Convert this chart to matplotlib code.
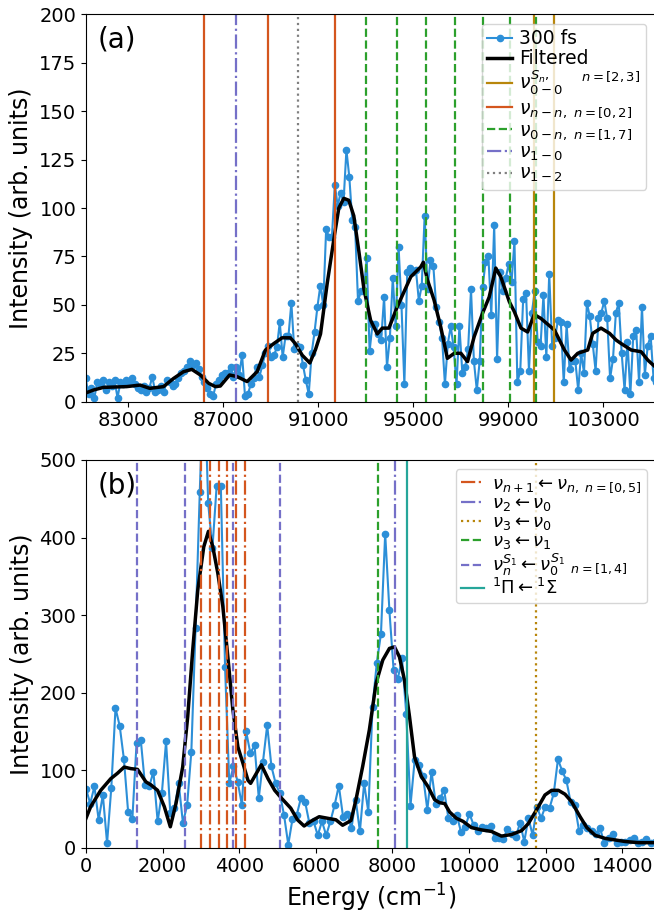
import numpy as np
import matplotlib
matplotlib.use("Agg")
import matplotlib.pyplot as plt

# panel (a): 300 fs spectrum, uniform energy grid
a_start = 81200
a_step = 122
counts_a = [
    12, 4, 7, 2, 10, 9, 11, 6, 10, 8, 11, 2, 10, 9, 11, 10, 12, 9, 7, 6, 8, 5, 7, 13, 5, 6, 8, 5, 11, 10, 8,
    9, 12, 15, 16, 18, 21, 19, 20, 17, 13, 10,
    7, 4, 3, 9, 11, 14, 15,
    15, 18, 13, 18, 14, 24, 3,
    4, 9, 12, 18, 13, 19, 25, 29, 23, 24, 28,
    41,
    23, 34, 34, 51, 27, 29, 28, 19, 11, 4,
    25, 36, 49, 60, 50, 89, 85, 85, 112, 101,
    108, 103, 130, 116, 94, 90, 52, 57, 57, 74,
    26, 40, 40, 35, 32, 54, 18, 33, 64, 39,
    80, 50, 9, 67, 69, 67, 68, 52, 60, 96,
    58, 73, 70, 49, 41, 33, 9, 30, 39, 28,
    9, 39, 15, 18, 27, 58,
    21, 6, 21, 59, 72, 75, 45, 91, 22, 67,
    57, 64, 71, 62, 83, 10, 16, 53, 56, 16,
    46, 57, 31, 29, 55, 23, 66, 29, 33, 42,
    41, 10, 40, 17, 21, 21, 6, 25, 15, 51,
    44, 30, 16, 43, 46, 52, 43, 12, 22, 46,
    51, 25, 6, 31, 4, 34, 37, 10, 49, 14,
    29, 34, 12, 10,
]

filt_a_x = [81200, 81520, 81950, 82930, 83490, 83900, 84480, 84900, 85320, 85670, 86030, 86380,
            86660, 86870, 87260, 87570, 88000, 88420, 88770, 89120, 89470, 89820, 90030, 90320,
            90640, 90880, 91090, 91370, 91690, 91860, 92070, 92280, 92490, 92700, 92920, 93200,
            93480, 93690, 93970, 94320, 94890, 95310, 95420, 95590, 95870, 96150, 96430, 96720,
            97000, 97280, 97560, 97910, 98190, 98470, 98680, 99040, 99250, 99530, 99810, 100090,
            100370, 100940, 101360, 101640, 101920, 102340, 102550, 102900, 103260, 103540,
            103750, 104170, 104590, 104870, 105180]
filt_a_y = [4.5, 6, 7.4, 7.8, 8.6, 6.9, 7.8, 12, 15.5, 16.7, 13.8, 9.5,
            7.8, 8.1, 13.8, 13, 10.4, 15.5, 26.7, 30, 33, 33, 30, 24,
            20, 27, 35, 61, 87, 100, 105, 104, 96, 78, 58, 42,
            35, 38, 38, 49, 64.5, 69.6, 72, 63, 52.5, 38.7, 22.4, 25,
            25, 20.7, 33.6, 45.6, 54, 69, 64.5, 51.6, 46.5, 38, 36, 45,
            43, 37, 26.7, 21.5, 25, 26.7, 35.3, 38, 35.3, 31.8,
            30, 26.7, 25.8, 21.5, 18]

# transition lines, panel (a)
nu00_Sn = [100090, 100910]
nu_nn = [86200, 88860, 91690]
nu_0n = [93020, 94300, 95550, 96760, 97940, 99080, 100170]
nu_10 = [87530]
nu_12 = [90150]

# panel (b)
b_start = 0
b_step = 110
counts_b = [
    76, 57, 79, 36, 68, 6, 77, 180, 157, 114, 46, 37, 135, 139, 81, 79, 98, 34, 70, 137,
    45, 51, 83, 32, 55, 124, 283, 459, 620, 444, 386, 466, 466, 233,
    83, 105, 85, 55, 150, 122, 132, 64, 111, 158, 105, 83, 70, 42,
    4, 37, 42, 64, 59, 32, 34, 16, 34, 16, 34, 55, 80, 40, 44, 25, 62, 21, 83, 46,
    182, 238, 276, 405, 306, 229, 218, 244, 173, 54, 113, 107, 92, 49, 98, 57, 64, 74, 38, 34, 42,
    20, 27, 44, 29, 22, 27, 25, 28, 13, 13, 11, 24, 18, 14, 32, 8, 38, 16, 53, 38, 53, 51,
    70, 114, 99, 87, 59, 55, 22, 29, 26, 22, 18, 25, 6, 12, 18, 6, 8, 8, 10, 13, 6, 8, 11, 6, 8,
]

filt_b_x = [0, 122, 384, 646, 821, 996, 1170, 1345, 1563, 1694, 1869, 2044, 2201, 2349, 2524,
            2655, 2786, 2917, 3074, 3196, 3310, 3441, 3572, 3703, 3834, 3965, 4096, 4227, 4297,
            4402, 4577, 4752, 4926, 5101, 5345, 5520, 5694, 5869, 6087, 6306, 6524, 6699, 6917,
            7048, 7223, 7397, 7572, 7747, 7921, 8052, 8183, 8314, 8445, 8576, 8751, 8926, 9100,
            9231, 9362, 9493, 9668, 9842, 10060, 10322, 10584, 10846, 11108, 11370, 11545, 11763,
            11981, 12156, 12331, 12505, 12680, 12898, 13073, 13291, 13553, 13815, 14077, 14427, 14880]
filt_b_y = [38, 53, 74, 89, 96, 104, 102, 101, 85, 81, 74, 53, 27, 57, 104,
            169, 255, 332, 388, 408, 388, 354, 311, 246, 178, 130, 109, 87, 83,
            92, 107, 89, 74, 64, 51, 36, 28, 34, 40, 38, 36, 29, 35,
            62, 105, 152, 212, 242, 257, 259, 246, 216, 169, 117, 92, 79, 62,
            58, 57, 46, 38, 34, 26, 23, 21, 15, 17, 22, 31, 49,
            68, 74, 74, 69, 59, 40, 26, 16, 12, 10, 8, 6.5, 6.5]

# transition lines, panel (b)
nu_np1_n = [3000, 3230, 3460, 3690, 3920, 4150]
nu2_nu0 = [8070]
nu3_nu0 = [11760]
nu3_nu1 = [7620]
nu_S1 = [1320, 2590, 3840, 5060]
pi_sigma = [8380]

blue = '#2C8FD8'
orange = '#D4561E'
gold = '#B8860B'
green = '#2CA02C'
purple = '#7570C8'
grey = '#808080'
teal = '#26A69A'

plt.rcParams['font.size'] = 14

fig = plt.figure(figsize=(6.54, 9.13), dpi=100)
ax1 = fig.add_axes([0.1315, 0.56, 0.871, 0.4243])
ax2 = fig.add_axes([0.1315, 0.0715, 0.871, 0.4247])

energy_a = a_start + a_step * np.arange(len(counts_a))
energy_b = b_start + b_step * np.arange(len(counts_b))


def vlines(ax, xs, label, **kw):
    for i, x in enumerate(xs):
        ax.axvline(x, label=label if i == 0 else None, lw=1.6, **kw)


# (a)
ax1.plot(energy_a, counts_a, '-o', color=blue, ms=4.5, lw=1.5, label='300 fs')
ax1.plot(filt_a_x, filt_a_y, color='black', lw=2.5, label='Filtered')
vlines(ax1, nu00_Sn, r'$\nu^{S_n,}_{0-0}\quad^{n=[2,3]}$', color=gold)
vlines(ax1, nu_nn, r'$\nu_{n-n,\ n=[0,2]}$', color=orange)
vlines(ax1, nu_0n, r'$\nu_{0-n,\ n=[1,7]}$', color=green, ls='--')
vlines(ax1, nu_10, r'$\nu_{1-0}$', color=purple, ls='-.')
vlines(ax1, nu_12, r'$\nu_{1-2}$', color=grey, ls=':')
ax1.set_xlim(81215, 105200)
ax1.set_ylim(0, 200)
ax1.set_xticks(np.arange(83000, 104000, 4000))
ax1.set_yticks(np.arange(0, 201, 25))
ax1.set_ylabel('Intensity (arb. units)', fontsize=17)
ax1.text(0.02, 0.97, '(a)', transform=ax1.transAxes, va='top', fontsize=20)
ax1.legend(loc='upper right', fontsize=13.5, labelspacing=0.05, handlelength=1.3,
           handletextpad=0.4, borderpad=0.3, borderaxespad=0.5)

# (b)
ax2.plot(energy_b, counts_b, '-o', color=blue, ms=4.5, lw=1.5)
ax2.plot(filt_b_x, filt_b_y, color='black', lw=2.5)
vlines(ax2, nu_np1_n, r'$\nu_{n+1} \leftarrow \nu_{n,\ n=[0,5]}$', color=orange, ls='-.')
vlines(ax2, nu2_nu0, r'$\nu_2 \leftarrow \nu_0$', color=purple, ls='-.')
vlines(ax2, nu3_nu0, r'$\nu_3 \leftarrow \nu_0$', color=gold, ls=':')
vlines(ax2, nu3_nu1, r'$\nu_3 \leftarrow \nu_1$', color=green, ls='--')
vlines(ax2, nu_S1, r'$\nu_n^{S_1} \leftarrow \nu_0^{S_1}\ _{n=[1,4]}$', color=purple, ls='--')
vlines(ax2, pi_sigma, r'$^1\Pi \leftarrow ^1\Sigma$', color=teal)
ax2.set_xlim(0, 14870)
ax2.set_ylim(0, 500)
ax2.set_xticks(np.arange(0, 14001, 2000))
ax2.set_xlabel('Energy (cm$^{-1}$)', fontsize=17)
ax2.set_ylabel('Intensity (arb. units)', fontsize=17)
ax2.text(0.02, 0.97, '(b)', transform=ax2.transAxes, va='top', fontsize=20)
ax2.legend(loc='upper right', fontsize=13, labelspacing=0.0, handlelength=1.3,
           handletextpad=0.4, borderpad=0.3, borderaxespad=0.5)

fig.savefig('out.png', dpi=100)
